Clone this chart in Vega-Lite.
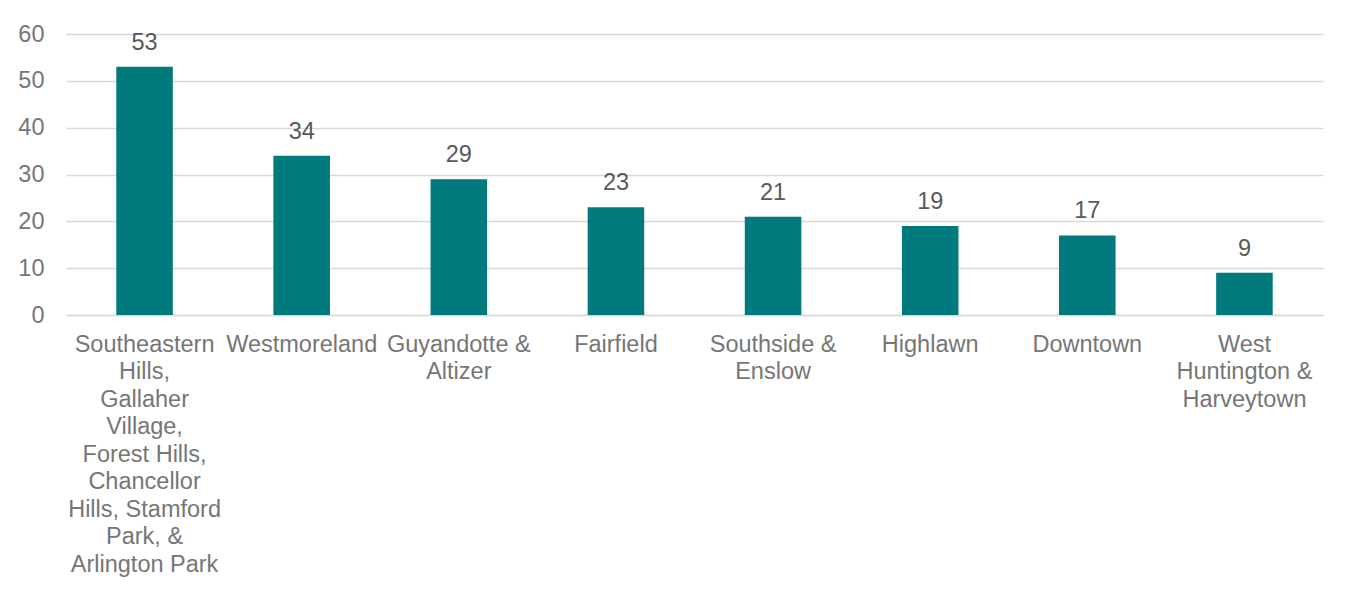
{
  "$schema": "https://vega.github.io/schema/vega-lite/v6.json",
  "width": 1257,
  "height": 281,
  "autosize": {"type": "none"},
  "padding": {"left": 66, "top": 34, "right": 30, "bottom": 278},
  "background": "white",
  "config": {
    "view": {"stroke": null},
    "font": "Liberation Sans"
  },
  "data": {
    "values": [
      {"name": "Southeastern|Hills,|Gallaher|Village,|Forest Hills,|Chancellor|Hills, Stamford|Park, &|Arlington Park", "count": 53},
      {"name": "Westmoreland", "count": 34},
      {"name": "Guyandotte &|Altizer", "count": 29},
      {"name": "Fairfield", "count": 23},
      {"name": "Southside &|Enslow", "count": 21},
      {"name": "Highlawn", "count": 19},
      {"name": "Downtown", "count": 17},
      {"name": "West|Huntington &|Harveytown", "count": 9}
    ]
  },
  "encoding": {
    "x": {
      "field": "name",
      "type": "nominal",
      "sort": null,
      "scale": {"paddingInner": 0.64, "paddingOuter": 0.32},
      "axis": {
        "title": null,
        "labelAngle": 0,
        "labelExpr": "split(datum.value, '|')",
        "labelFontSize": 23.5,
        "labelLineHeight": 27.5,
        "labelColor": "#767676",
        "labelPadding": 17,
        "labelLimit": 400,
        "labelOverlap": false,
        "labelBaseline": "top",
        "ticks": false,
        "domainColor": "#D9D9D9",
        "domainWidth": 1.5
      }
    },
    "y": {
      "field": "count",
      "type": "quantitative",
      "scale": {"domain": [0, 60], "nice": false},
      "axis": {
        "title": null,
        "values": [0, 10, 20, 30, 40, 50, 60],
        "domain": false,
        "ticks": false,
        "gridColor": "#D9D9D9",
        "gridWidth": 1.5,
        "labelFontSize": 23.5,
        "labelColor": "#767676",
        "labelPadding": 22
      }
    }
  },
  "layer": [
    {"mark": {"type": "bar", "color": "#007A7D"}},
    {
      "mark": {"type": "text", "baseline": "alphabetic", "dy": -17, "fontSize": 23.5, "color": "#595959"},
      "encoding": {"text": {"field": "count", "type": "quantitative"}}
    }
  ]
}
